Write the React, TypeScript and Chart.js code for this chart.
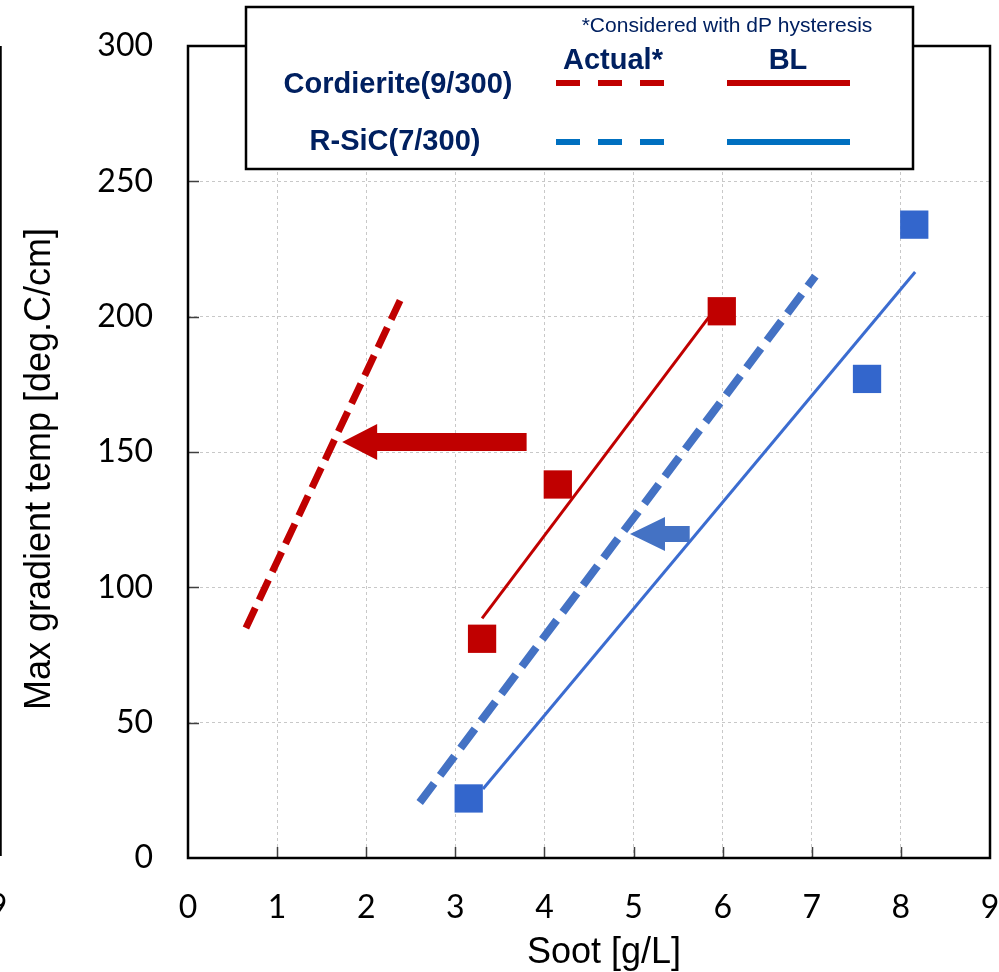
import { useEffect, useRef } from "react";
import { Chart, registerables } from "chart.js";

Chart.register(...registerables);

// ---- data ----
const xTickValues = [0, 1, 2, 3, 4, 5, 6, 7, 8, 9];
const yTickValues = [0, 50, 100, 150, 200, 250, 300];

const cordieriteBLSoot = [3.3, 4.15, 5.99];
const cordieriteBLTemp = [81, 138, 202];
const sicBLSoot = [3.15, 7.62, 8.15];
const sicBLTemp = [22, 177, 234];

const cordieriteActualLineSoot = [0.65, 2.38];
const cordieriteActualLineTemp = [85, 206];
const cordieriteBLLineSoot = [3.3, 5.85];
const cordieriteBLLineTemp = [88.5, 200];
const sicActualLineSoot = [2.6, 7.04];
const sicActualLineTemp = [20.5, 215];
const sicBLLineSoot = [3.31, 8.16];
const sicBLLineTemp = [25.5, 216.5];

const cordieriteArrowSoot = [3.8, 1.73]; // tail, tip
const cordieriteArrowTemp = 153.7;
const sicArrowSoot = [5.63, 4.96];
const sicArrowTemp = 119.7;

const legendRows = ["Cordierite(9/300)", "R-SiC(7/300)"];
const legendCols = ["Actual*", "BL"];
const legendNote = "*Considered with dP hysteresis";
const xTitle = "Soot [g/L]";
const yTitle = "Max gradient temp [deg.C/cm]";

const RED = "#C00000";
const BLUE_LINE = "#4472C4";
const BLUE_SQ = "#3366CC";
const BLUE_LEG = "#0070C0";
const NAVY = "#002060";

const toPts = (xs: number[], ys: number[]) => xs.map((x, i) => ({ x, y: ys[i] }));

function drawArrow(
  ctx: CanvasRenderingContext2D,
  xTail: number,
  xTip: number,
  y: number,
  shaft: number,
  head: number,
  headLen: number,
  color: string
) {
  const dir = xTip < xTail ? -1 : 1;
  const xBase = xTip - dir * headLen;
  ctx.save();
  ctx.fillStyle = color;
  ctx.beginPath();
  ctx.moveTo(xTail, y - shaft / 2);
  ctx.lineTo(xBase, y - shaft / 2);
  ctx.lineTo(xBase, y - head / 2);
  ctx.lineTo(xTip, y);
  ctx.lineTo(xBase, y + head / 2);
  ctx.lineTo(xBase, y + shaft / 2);
  ctx.lineTo(xTail, y + shaft / 2);
  ctx.closePath();
  ctx.fill();
  ctx.restore();
}

const zeroPad = () => ({ left: 0, top: 0, right: 0, bottom: 0 });

const decorPlugin = {
  id: "decor",
  afterDatasetsDraw(chart: any) {
    const ctx: CanvasRenderingContext2D = chart.ctx;
    const xs = chart.scales.x;
    const ys = chart.scales.y;
    const a = chart.chartArea;

    // arrows
    drawArrow(
      ctx,
      xs.getPixelForValue(cordieriteArrowSoot[0]),
      xs.getPixelForValue(cordieriteArrowSoot[1]),
      ys.getPixelForValue(cordieriteArrowTemp),
      18,
      36,
      35,
      RED
    );
    drawArrow(
      ctx,
      xs.getPixelForValue(sicArrowSoot[0]),
      xs.getPixelForValue(sicArrowSoot[1]),
      ys.getPixelForValue(sicArrowTemp),
      16,
      34,
      35,
      BLUE_LINE
    );

    // inner tick marks
    ctx.save();
    ctx.strokeStyle = "#404040";
    ctx.lineWidth = 1.5;
    ctx.beginPath();
    xTickValues.slice(1, -1).forEach((v) => {
      const px = Math.round(xs.getPixelForValue(v)) + 0.5;
      ctx.moveTo(px, a.bottom);
      ctx.lineTo(px, a.bottom - 11);
    });
    yTickValues.slice(1, -1).forEach((v) => {
      const py = Math.round(ys.getPixelForValue(v)) + 0.5;
      ctx.moveTo(a.left, py);
      ctx.lineTo(a.left + 11, py);
    });
    ctx.stroke();
    ctx.restore();

    // plot frame
    ctx.save();
    ctx.strokeStyle = "#000";
    ctx.lineWidth = 2.5;
    ctx.strokeRect(a.left, a.top, a.right - a.left, a.bottom - a.top);
    ctx.restore();
  },
  afterDraw(chart: any) {
    const ctx: CanvasRenderingContext2D = chart.ctx;

    // legend box
    ctx.save();
    ctx.fillStyle = "#fff";
    ctx.fillRect(246, 7, 667, 162);
    ctx.strokeStyle = "#000";
    ctx.lineWidth = 2.5;
    ctx.strokeRect(246, 7, 667, 162);

    ctx.fillStyle = NAVY;
    ctx.textAlign = "center";
    ctx.textBaseline = "alphabetic";
    ctx.font = '21px "Liberation Sans", Arial, sans-serif';
    ctx.fillText(legendNote, 727, 32, 298);
    ctx.font = 'bold 29px "Liberation Sans", Arial, sans-serif';
    ctx.fillText(legendCols[0], 613, 69, 100);
    ctx.fillText(legendCols[1], 788, 69, 40);
    ctx.fillText(legendRows[0], 398, 93, 231);
    ctx.fillText(legendRows[1], 395, 150, 171);

    ctx.lineWidth = 6;
    ctx.lineCap = "butt";
    const rowsY = [83, 142];
    const cols = [RED, BLUE_LEG];
    rowsY.forEach((y, i) => {
      ctx.strokeStyle = cols[i];
      ctx.setLineDash([24, 18]);
      ctx.beginPath();
      ctx.moveTo(556, y);
      ctx.lineTo(664, y);
      ctx.stroke();
      ctx.setLineDash([]);
      ctx.beginPath();
      ctx.moveTo(727, y);
      ctx.lineTo(850, y);
      ctx.stroke();
    });
    ctx.restore();

    // axis titles
    ctx.save();
    ctx.fillStyle = "#000";
    ctx.font = '36px "Liberation Sans", Arial, sans-serif';
    ctx.textAlign = "center";
    ctx.textBaseline = "alphabetic";
    ctx.fillText(xTitle, 604, 963);
    ctx.translate(50, 469);
    ctx.rotate(-Math.PI / 2);
    ctx.fillText(yTitle, 0, 0);
    ctx.restore();

    // remnant of neighbouring chart at the left edge
    ctx.save();
    ctx.strokeStyle = "#000";
    ctx.lineWidth = 2.5;
    ctx.beginPath();
    ctx.moveTo(0.5, 46);
    ctx.lineTo(0.5, 856);
    ctx.stroke();
    ctx.fillStyle = "#000";
    ctx.font = '32px Lato, sans-serif';
    ctx.textAlign = "center";
    ctx.textBaseline = "middle";
    ctx.fillText("9", -2, 907);
    ctx.restore();
  },
};

export default function App() {
  const ref = useRef<HTMLCanvasElement | null>(null);

  useEffect(() => {
    if (!ref.current) return;
    const chart = new Chart(ref.current, {
      type: "scatter",
      data: {
        datasets: [
          {
            label: "Cordierite Actual",
            data: toPts(cordieriteActualLineSoot, cordieriteActualLineTemp),
            showLine: true,
            borderColor: RED,
            borderWidth: 7,
            borderDash: [22, 9],
            pointRadius: 0,
            borderCapStyle: "butt",
          },
          {
            label: "Cordierite BL",
            data: toPts(cordieriteBLLineSoot, cordieriteBLLineTemp),
            showLine: true,
            borderColor: RED,
            borderWidth: 3,
            pointRadius: 0,
          },
          {
            label: "R-SiC Actual",
            data: toPts(sicActualLineSoot, sicActualLineTemp),
            showLine: true,
            borderColor: BLUE_LINE,
            borderWidth: 8,
            borderDash: [24, 10],
            pointRadius: 0,
            borderCapStyle: "butt",
          },
          {
            label: "R-SiC BL",
            data: toPts(sicBLLineSoot, sicBLLineTemp),
            showLine: true,
            borderColor: "#3B6CD0",
            borderWidth: 3,
            pointRadius: 0,
          },
          {
            label: "Cordierite BL data",
            data: toPts(cordieriteBLSoot, cordieriteBLTemp),
            showLine: false,
            pointStyle: "rect",
            pointRadius: 20,
            pointBackgroundColor: RED,
            pointBorderColor: RED,
            pointBorderWidth: 0,
          },
          {
            label: "R-SiC BL data",
            data: toPts(sicBLSoot, sicBLTemp),
            showLine: false,
            pointStyle: "rect",
            pointRadius: 20,
            pointBackgroundColor: BLUE_SQ,
            pointBorderColor: BLUE_SQ,
            pointBorderWidth: 0,
          },
        ],
      },
      options: {
        responsive: false,
        animation: false,
        devicePixelRatio: 1,
        layout: { autoPadding: false, padding: { left: 0, top: 46, right: 9, bottom: 0 } },
        plugins: { legend: { display: false }, tooltip: { enabled: false } },
        scales: {
          x: {
            type: "linear",
            min: 0,
            max: 9,
            afterBuildTicks: (s: any) => {
              s.ticks = xTickValues.map((v) => ({ value: v }));
            },
            afterFit: (s: any) => {
              s.height = 114;
              s.paddingLeft = 0;
              s.paddingRight = 0;
              s.paddingTop = 0;
              s.paddingBottom = 0;
              s.getPadding = zeroPad;
            },
            ticks: {
              color: "#000",
              font: { family: "Lato", size: 32 },
              padding: 30,
              maxRotation: 0,
            },
            grid: { color: "#C8C8C8", lineWidth: 1, drawTicks: false },
            border: { display: false, dash: [3, 3] },
          },
          y: {
            type: "linear",
            min: 0,
            max: 300,
            afterBuildTicks: (s: any) => {
              s.ticks = yTickValues.map((v) => ({ value: v }));
            },
            afterFit: (s: any) => {
              s.width = 188;
              s.paddingLeft = 0;
              s.paddingRight = 0;
              s.paddingTop = 0;
              s.paddingBottom = 0;
              s.getPadding = zeroPad;
            },
            ticks: {
              color: "#000",
              font: { family: "Lato", size: 32 },
              padding: 35,
            },
            grid: { color: "#C8C8C8", lineWidth: 1, drawTicks: false },
            border: { display: false, dash: [3, 3] },
          },
        },
      },
      plugins: [decorPlugin],
    } as any);
    return () => chart.destroy();
  }, []);

  return (
    <div style={{ position: "absolute", left: 0, top: 0, width: 999, height: 972, background: "#fff" }}>
      <canvas ref={ref} width={999} height={972} style={{ display: "block" }} />
    </div>
  );
}
